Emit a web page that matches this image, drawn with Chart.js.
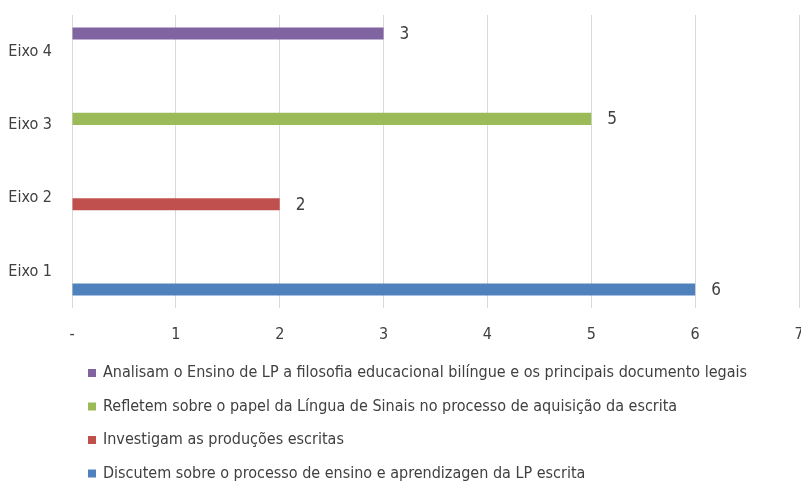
<!DOCTYPE html>
<html>
<head>
<meta charset="utf-8">
<script src="https://cdn.jsdelivr.net/npm/chart.js@4.4.1/dist/chart.umd.min.js"></script>
<style>
  html, body { margin: 0; padding: 0; background: #fff; }
  canvas { display: block; }
</style>
</head>
<body>
<canvas id="chart" width="801" height="482"></canvas>
<script>
/* Eixos - horizontal bar chart */

const categories = ["Eixo 1", "Eixo 2", "Eixo 3", "Eixo 4"];
const seriesLabels = [
  "Analisam o Ensino de LP a filosofia educacional bilíngue e os principais documento legais",
  "Refletem sobre o papel da Língua de Sinais no processo de aquisição da escrita",
  "Investigam as produções escritas",
  "Discutem sobre o processo de ensino e aprendizagen da LP escrita",
];
const analisam = [null, null, null, 3];
const refletem = [null, null, 5, null];
const investigam = [null, 2, null, null];
const discutem = [6, null, null, null];
const xTicks = [0, 1, 2, 3, 4, 5, 6, 7];

const SERIES_COLORS = ["#8064a2", "#9bbb59", "#c0504d", "#4f81bd"];
const FONT = "'Liberation Sans Narrow', 'Arial Narrow', 'DejaVu Sans Condensed', sans-serif";
const TEXT = "#404040";

const valueLabels = {
  id: "valueLabels",
  afterDatasetsDraw(chart) {
    const ctx = chart.ctx;
    ctx.save();
    ctx.font = "17px " + FONT;
    ctx.fillStyle = TEXT;
    ctx.textAlign = "left";
    ctx.textBaseline = "middle";
    chart.data.datasets.forEach(function(ds, i) {
      chart.getDatasetMeta(i).data.forEach(function(bar, j) {
        if (ds.data[j] == null) return;
        ctx.fillText(String(ds.data[j]), bar.x + 16, bar.y + 1);
      });
    });
    ctx.restore();
  },
};

const sideLegend = {
  id: "sideLegend",
  afterDraw(chart) {
    const ctx = chart.ctx;
    const left = chart.chartArea.left + 16;
    const top = chart.chartArea.bottom + 65;
    ctx.save();
    ctx.font = "16px " + FONT;
    ctx.textBaseline = "middle";
    ctx.textAlign = "left";
    chart.data.datasets.forEach(function(ds, i) {
      const y = top + i * 33.5;
      ctx.fillStyle = ds.backgroundColor;
      ctx.fillRect(left, y - 4, 8, 8);
      ctx.fillStyle = TEXT;
      ctx.fillText(ds.label, left + 15, y);
    });
    ctx.restore();
  },
};

const seriesData = [analisam, refletem, investigam, discutem];

new Chart(document.getElementById("chart"), {
  type: "bar",
  data: {
    labels: categories,
    datasets: seriesData.map(function(values, i) {
      return {
        label: seriesLabels[i],
        data: values,
        backgroundColor: SERIES_COLORS[i],
        borderWidth: 0,
        categoryPercentage: 0.66,
        barPercentage: 1.0,
      };
    }),
  },
  options: {
    indexAxis: "y",
    responsive: false,
    animation: false,
    devicePixelRatio: 1,
    layout: { padding: { top: 15, right: 2, bottom: 134, left: 0 } },
    plugins: {
      legend: { display: false },
      tooltip: { enabled: false },
    },
    scales: {
      x: {
        min: 0,
        max: 7,
        afterBuildTicks(scale) {
          scale.ticks = xTicks.map(function(v) { return { value: v }; });
        },
        afterFit(scale) {
          scale.height = 40;
          scale.paddingLeft = 0;
          scale.paddingRight = 0;
        },
        grid: { color: "#d9d9d9", lineWidth: 1, drawTicks: false },
        border: { display: false },
        ticks: {
          padding: 17,
          color: TEXT,
          font: { family: FONT, size: 16 },
          callback: function(v) { return v === 0 ? "-" : v; },
        },
      },
      y: {
        reverse: true,
        afterFit(scale) {
          scale.width = 72;
          scale.paddingTop = 0;
          scale.paddingBottom = 0;
        },
        grid: { display: false, drawTicks: false },
        border: { display: false },
        ticks: {
          padding: 20,
          color: TEXT,
          font: { family: FONT, size: 16 },
        },
      },
    },
  },
  plugins: [valueLabels, sideLegend],
});
</script>
</body>
</html>
